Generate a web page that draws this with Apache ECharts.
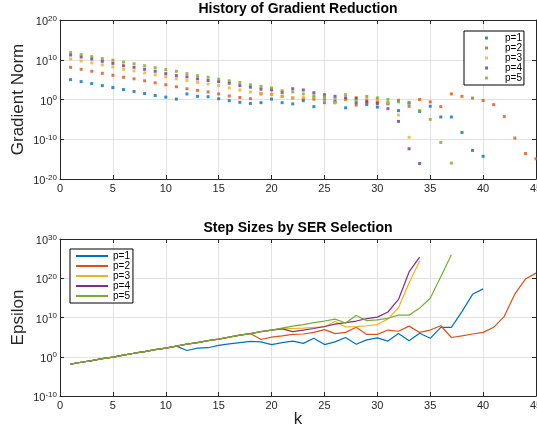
<!DOCTYPE html>
<html>
<head>
<meta charset="utf-8">
<script src="https://cdn.jsdelivr.net/npm/echarts@6/dist/echarts.min.js"></script>
<style>
  html, body { margin: 0; padding: 0; background: #fff; }
  #chart { width: 537px; height: 431px; }
</style>
</head>
<body>
<div id="chart"></div>
<script>
  // MATLAB default colour order
  const colors = ['#0072BD', '#D95319', '#EDB120', '#7E2F8E', '#77AC30'];
  const names = ['p=1', 'p=2', 'p=3', 'p=4', 'p=5'];
  const font = 'Liberation Sans, Arial, Helvetica, sans-serif';
  const axisColor = '#262626';

  // top plot: log10 of gradient norm, first value is k=1
  const gradP1 = [5.0, 4.5, 4.0, 3.5, 3.0, 2.5, 2.0, 1.5, 1.0, 0.6, 0.1, 1.4, 0.8, 0.7, 0.2, -0.3, -0.7, -1.0, -0.8, 0.1,
    -0.8, -1.1, -0.3, -1.8, 0.1, -0.5, -2.1, -0.8, -1.3, -1.9, -1.1, -2.8, -0.9, -3.0, -1.7, -4.4, -4.4, -8.3, -12.8, -14.3];
  const gradP2 = [8.1, 7.6, 7.1, 6.6, 6.1, 5.6, 5.2, 4.7, 4.2, 3.7, 3.2, 2.7, 2.3, 1.9, 1.4, 0.9, 0.5, 0.2, 1.4, 1.3,
    0.8, 0.4, 0.1, 0.1, -0.8, -0.8, 0.0, -1.4, -0.8, -0.6, -0.8, -0.2, -1.7, 0.0, -0.6, -1.8, 1.4, 0.8, 0.35, -0.25,
    -1.3, -4.3, -9.7, -13.6, -14.9];
  const gradP3 = [10.2, 9.7, 9.2, 8.7, 8.2, 7.6, 7.2, 6.7, 6.2, 5.7, 5.2, 4.8, 4.3, 3.9, 3.5, 2.9, 2.4, 1.9, 1.6, 1.2,
    0.9, 0.4, 0.5, 0.6, 0.4, -0.8, 0.1, 0.5, 0.2, 0.1, -0.9, -3.9, -9.5];
  const gradP4 = [11.2, 10.7, 10.2, 9.6, 9.1, 8.5, 8.1, 7.6, 7.1, 6.5, 6.0, 5.7, 5.2, 4.8, 4.5, 4.1, 3.5, 3.1, 2.6, 2.4,
    1.8, 2.7, 2.4, 1.7, 1.2, 0.8, 0.4, 0.3, -0.4, -1.0, -2.3, -5.5, -12.4, -16.1];
  const gradP5 = [11.8, 11.3, 10.8, 10.3, 9.9, 9.4, 9.0, 8.5, 8.0, 7.5, 7.1, 6.5, 6.0, 5.6, 5.1, 4.7, 4.3, 3.7, 3.3, 2.9,
    2.2, 1.9, 1.4, 0.9, 0.8, 0.3, 1.2, -0.3, 0.8, 0.4, 0.0, -0.6, -0.7, -2.8, -5.0, -10.8, -16.0];

  // bottom plot: log10 of epsilon, first value is k=1
  const epsP1 = [-1.9, -1.4, -1.0, -0.5, -0.1, 0.4, 0.9, 1.3, 1.8, 2.2, 2.7, 1.6, 2.2, 2.3, 2.9, 3.3, 3.6, 3.9, 3.8, 3.1,
    3.6, 4.0, 3.4, 4.7, 3.1, 3.8, 4.9, 3.2, 4.3, 4.8, 4.0, 5.9, 4.1, 6.0, 4.7, 7.5, 7.5, 11.5, 15.9, 17.3];
  const epsP2 = [-1.9, -1.4, -1.0, -0.5, -0.1, 0.4, 0.9, 1.3, 1.8, 2.2, 2.7, 3.2, 3.6, 4.1, 4.5, 5.0, 5.5, 5.9, 4.4, 5.0,
    5.3, 5.7, 5.8, 6.2, 6.9, 5.9, 6.2, 7.5, 5.7, 5.7, 6.8, 6.5, 7.8, 6.2, 6.8, 7.9, 4.9, 5.3, 5.8, 6.2,
    7.5, 10.3, 16.0, 19.8, 21.3];
  const epsP3 = [-1.9, -1.4, -1.0, -0.5, -0.1, 0.4, 0.9, 1.3, 1.8, 2.2, 2.7, 3.2, 3.6, 4.1, 4.5, 5.0, 5.5, 5.9, 6.4, 6.8,
    7.2, 7.2, 7.3, 7.5, 7.6, 9.0, 7.6, 7.7, 7.9, 8.2, 9.6, 12.5, 18.8, 24.4];
  const epsP4 = [-1.9, -1.4, -1.0, -0.5, -0.1, 0.4, 0.9, 1.3, 1.8, 2.2, 2.7, 3.2, 3.6, 4.1, 4.5, 5.0, 5.5, 5.9, 6.4, 6.8,
    7.1, 6.4, 6.8, 7.2, 7.7, 8.3, 8.7, 9.1, 9.7, 10.1, 11.4, 14.6, 21.6, 25.4];
  const epsP5 = [-1.9, -1.4, -1.0, -0.5, -0.1, 0.4, 0.9, 1.3, 1.8, 2.2, 2.7, 3.2, 3.6, 4.1, 4.5, 5.0, 5.5, 5.9, 6.4, 6.8,
    7.3, 7.8, 8.2, 8.7, 9.1, 9.6, 8.6, 10.5, 9.2, 9.4, 9.8, 10.6, 10.6, 12.4, 14.9, 20.4, 26.0];

  const gradData = [gradP1, gradP2, gradP3, gradP4, gradP5];
  const epsData = [epsP1, epsP2, epsP3, epsP4, epsP5];

  // [k, value] pairs for the log axis
  function pairs(arr) {
    return arr.map((e, i) => [i + 1, Math.pow(10, e)]);
  }

  // 10^n labels with a raised exponent
  const powLabel = {
    margin: 3,
    color: axisColor,
    fontFamily: font,
    padding: [4, 0, 0, 0],
    formatter: function (v) {
      const e = Math.round(Math.log10(v));
      return '{b|10}{s|' + e + '}';
    },
    rich: {
      b: { fontSize: 11, lineHeight: 11, verticalAlign: 'bottom', fontFamily: font, color: axisColor },
      s: { fontSize: 8, lineHeight: 8, padding: [0, 0, 7, 0], fontFamily: font, color: axisColor }
    }
  };
  const grey = { show: true, lineStyle: { color: '#e1e1e1', width: 1 } };
  const line = { show: true, onZero: false, lineStyle: { color: axisColor, width: 1 } };
  const tick = { show: true, inside: true, length: 4, lineStyle: { color: axisColor } };

  function xAxes(grid, withName) {
    return [
      {
        gridIndex: grid, type: 'value', min: 0, max: 45, interval: 5, position: 'bottom',
        axisLine: line, axisTick: tick, splitLine: grey,
        axisLabel: { margin: 4, fontSize: 11, color: axisColor, fontFamily: font },
        name: withName ? 'k' : '', nameLocation: 'middle', nameGap: 15, nameMoveOverlap: false,
        nameTextStyle: { fontSize: 17, color: axisColor, fontFamily: font }
      },
      {
        gridIndex: grid, type: 'value', min: 0, max: 45, interval: 5, position: 'top',
        axisLine: line, axisTick: tick, splitLine: { show: false }, axisLabel: { show: false }
      }
    ];
  }
  function yAxes(grid, min, max, name) {
    return [
      {
        gridIndex: grid, type: 'log', logBase: 10, min: min, max: max, position: 'left',
        axisLine: line, axisTick: tick, splitLine: grey, axisLabel: powLabel,
        name: name, nameLocation: 'middle', nameGap: 33, nameMoveOverlap: false,
        nameTextStyle: { fontSize: 17, color: axisColor, fontFamily: font }
      },
      {
        gridIndex: grid, type: 'log', logBase: 10, min: min, max: max, position: 'right',
        axisLine: line, axisTick: tick, splitLine: { show: false }, axisLabel: { show: false }
      }
    ];
  }

  const series = [];
  gradData.forEach((arr, i) => {
    series.push({
      name: names[i], type: 'scatter', xAxisIndex: 0, yAxisIndex: 0,
      symbol: 'rect', symbolSize: 3, itemStyle: { color: colors[i] },
      data: pairs(arr)
    });
  });
  epsData.forEach((arr, i) => {
    series.push({
      // trailing space keeps the two legends apart
      name: names[i] + ' ', type: 'line', xAxisIndex: 2, yAxisIndex: 2,
      symbol: 'none', showSymbol: false, lineStyle: { color: colors[i], width: 1.2 },
      itemStyle: { color: colors[i] },
      data: pairs(arr)
    });
  });

  const chart = echarts.init(document.getElementById('chart'), null, { renderer: 'canvas' });
  chart.setOption({
    animation: false,
    backgroundColor: '#fff',
    title: [
      {
        text: 'History of Gradient Reduction', left: 298, top: 2, textAlign: 'center', padding: 0,
        textStyle: { fontSize: 14, fontWeight: 'bold', color: '#000', fontFamily: font }
      },
      {
        text: 'Step Sizes by SER Selection', left: 298, top: 221, textAlign: 'center', padding: 0,
        textStyle: { fontSize: 14, fontWeight: 'bold', color: '#000', fontFamily: font }
      }
    ],
    legend: [
      {
        data: names, orient: 'vertical', left: 464, top: 31, padding: [2, 2, 2, 21],
        itemGap: 0, itemWidth: 3, itemHeight: 3,
        borderColor: '#000', borderWidth: 1, backgroundColor: '#fff',
        textStyle: { fontSize: 10, lineHeight: 9, color: '#000', fontFamily: font, padding: [0, 0, 0, 12] }
      },
      {
        data: names.map(n => n + ' '), orient: 'vertical', left: 70, top: 249, padding: [2, 3, 2, 6],
        itemGap: 0, itemWidth: 32, itemHeight: 2, icon: 'rect',
        borderColor: '#000', borderWidth: 1, backgroundColor: '#fff',
        formatter: n => n.trim(),
        textStyle: { fontSize: 10, lineHeight: 9, color: '#000', fontFamily: font }
      }
    ],
    // outerBoundsMode none: keep the box where it is and let "45" run off the edge
    grid: [
      { left: 60, right: 1, top: 20, height: 159, outerBoundsMode: 'none' },
      { left: 60, right: 1, top: 239, height: 157, outerBoundsMode: 'none' }
    ],
    xAxis: xAxes(0, false).concat(xAxes(1, true)),
    yAxis: yAxes(0, 1e-20, 1e20, 'Gradient Norm').concat(yAxes(1, 1e-10, 1e30, 'Epsilon')),
    series: series
  });
</script>
</body>
</html>
